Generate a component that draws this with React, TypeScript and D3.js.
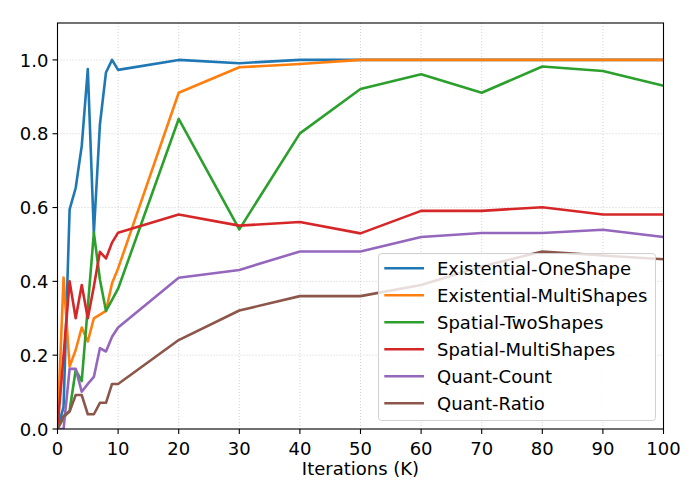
import React from "react";
import * as d3 from "d3";

const iterations = [0, 1, 2, 3, 4, 5, 6, 7, 8, 9, 10, 20, 30, 40, 50, 60, 70, 80, 90, 100];

const existentialOneShape = [0, 0.06, 0.595, 0.653, 0.767, 0.975, 0.531, 0.825, 0.966, 1.0, 0.973, 1.0, 0.991, 1.0, 1.0, 1.0, 1.0, 1.0, 1.0, 1.0];
const existentialMultiShapes = [0, 0.41, 0.169, 0.214, 0.275, 0.237, 0.3, 0.31, 0.32, 0.395, 0.435, 0.911, 0.98, 0.989, 1.0, 1.0, 1.0, 1.0, 1.0, 1.0];
const spatialTwoShapes = [0, 0.03, 0.05, 0.16, 0.13, 0.33, 0.532, 0.405, 0.32, 0.35, 0.38, 0.84, 0.541, 0.801, 0.921, 0.961, 0.911, 0.982, 0.97, 0.93];
const spatialMultiShapes = [0, 0.2, 0.4, 0.3, 0.39, 0.3, 0.386, 0.48, 0.462, 0.505, 0.532, 0.581, 0.551, 0.561, 0.53, 0.591, 0.591, 0.601, 0.581, 0.581];
const quantCount = [0, 0, 0.163, 0.163, 0.101, 0.122, 0.141, 0.219, 0.21, 0.25, 0.275, 0.41, 0.431, 0.481, 0.481, 0.52, 0.531, 0.531, 0.54, 0.52];
const quantRatio = [0, 0.035, 0.047, 0.092, 0.092, 0.04, 0.04, 0.071, 0.071, 0.122, 0.122, 0.241, 0.321, 0.36, 0.36, 0.39, 0.44, 0.481, 0.47, 0.46];

const seriesNames = [
  "Existential-OneShape",
  "Existential-MultiShapes",
  "Spatial-TwoShapes",
  "Spatial-MultiShapes",
  "Quant-Count",
  "Quant-Ratio",
];
const seriesValues = [
  existentialOneShape,
  existentialMultiShapes,
  spatialTwoShapes,
  spatialMultiShapes,
  quantCount,
  quantRatio,
];
const colors = ["#1f77b4", "#ff7f0e", "#2ca02c", "#d62728", "#9467bd", "#8c564b"];

const xTicks = [0, 10, 20, 30, 40, 50, 60, 70, 80, 90, 100];
const yTicks = [0, 0.2, 0.4, 0.6, 0.8, 1.0];
const xLabel = "Iterations (K)";

const W = 700;
const H = 500;
const left = 57.5;
const right = 663.5;
const top = 23;
const bottom = 429;
const font = "'DejaVu Sans', sans-serif";
const fs = 18;

export default function App() {
  const x = d3.scaleLinear().domain([0, 100]).range([left, right]);
  const y = d3.scaleLinear().domain([0, 1.1]).range([bottom, top]);
  const line = d3
    .line<[number, number]>()
    .x((d) => x(d[0]))
    .y((d) => y(d[1]));

  const legendX = 378.5;
  const legendY = 253.5;
  const legendW = 277;
  const legendH = 167;
  const rowH = 27;

  return (
    <div style={{ position: "fixed", left: 0, top: 0 }}>
      <svg width={W} height={H} style={{ display: "block", background: "#fff" }}>
        <rect x={0} y={0} width={W} height={H} fill="#fff" />
        {/* grid */}
        <g stroke="#cfcfcf" strokeWidth={0.9} strokeDasharray="1.1,1.9">
          {xTicks.map((t) => (
            <line key={"gx" + t} x1={x(t)} x2={x(t)} y1={top} y2={bottom} />
          ))}
          {yTicks.map((t) => (
            <line key={"gy" + t} x1={left} x2={right} y1={y(t)} y2={y(t)} />
          ))}
        </g>
        {/* lines */}
        <defs>
          <clipPath id="plot">
            <rect x={left} y={top} width={right - left} height={bottom - top} />
          </clipPath>
        </defs>
        <g clipPath="url(#plot)" fill="none" strokeWidth={2.6} strokeLinejoin="round" strokeLinecap="butt">
          {seriesValues.map((vals, i) => (
            <path
              key={seriesNames[i]}
              d={line(iterations.map((it, j) => [it, vals[j]] as [number, number])) || ""}
              stroke={colors[i]}
            />
          ))}
        </g>
        {/* spines */}
        <rect x={left} y={top} width={right - left} height={bottom - top} fill="none" stroke="#000" strokeWidth={1.1} />
        {/* ticks */}
        <g stroke="#000" strokeWidth={1.1}>
          {xTicks.map((t) => (
            <line key={"tx" + t} x1={x(t)} x2={x(t)} y1={bottom} y2={bottom + 5} />
          ))}
          {yTicks.map((t) => (
            <line key={"ty" + t} x1={left - 5} x2={left} y1={y(t)} y2={y(t)} />
          ))}
        </g>
        <g fontFamily={font} fontSize={fs} fill="#000">
          {xTicks.map((t) => (
            <text key={"lx" + t} x={x(t)} y={455} textAnchor="middle">
              {String(t)}
            </text>
          ))}
          {yTicks.map((t) => (
            <text key={"ly" + t} x={48.5} y={y(t) + 6.6} textAnchor="end">
              {t.toFixed(1)}
            </text>
          ))}
          <text x={(left + right) / 2} y={475} textAnchor="middle">
            {xLabel}
          </text>
        </g>
        {/* legend */}
        <rect
          x={legendX}
          y={legendY}
          width={legendW}
          height={legendH}
          rx={3}
          fill="#fff"
          fillOpacity={0.8}
          stroke="#d0d0d0"
          strokeWidth={1}
        />
        {seriesNames.map((name, i) => {
          const cy = 268.3 + i * rowH;
          return (
            <g key={"leg" + name}>
              <line x1={384.3} x2={424} y1={cy} y2={cy} stroke={colors[i]} strokeWidth={2.6} />
              <text x={437} y={cy + 6.5} fontFamily={font} fontSize={fs} fill="#000">
                {name}
              </text>
            </g>
          );
        })}
      </svg>
    </div>
  );
}
